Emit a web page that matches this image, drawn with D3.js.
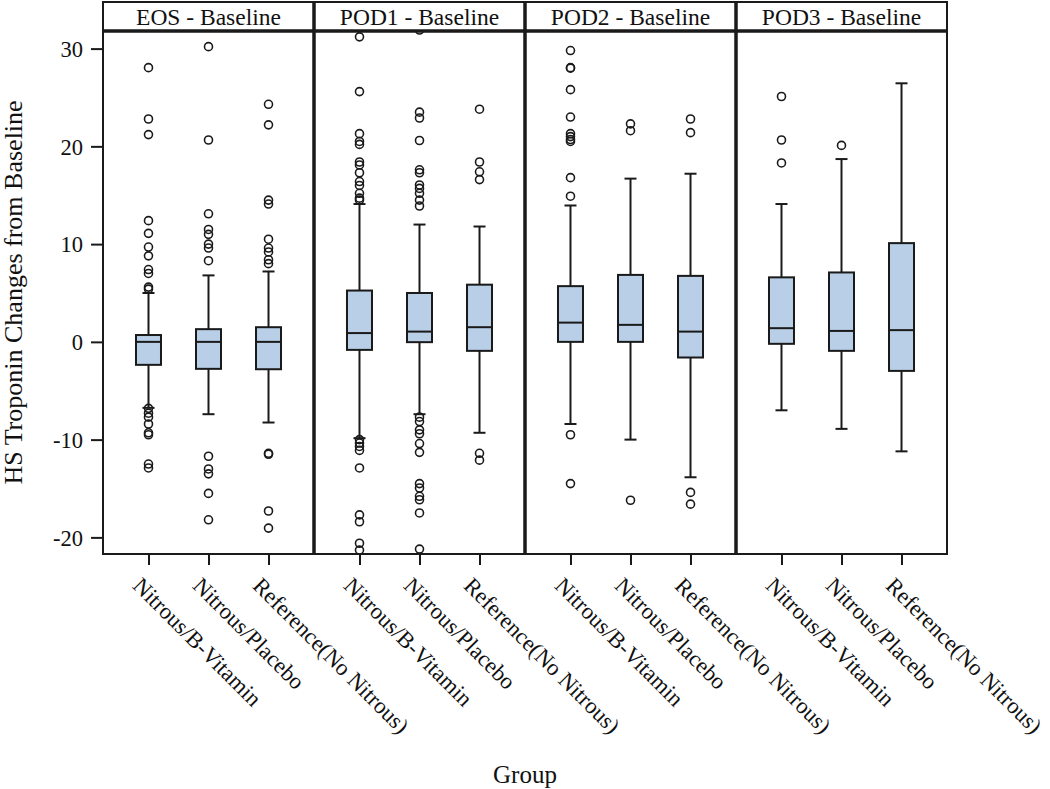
<!DOCTYPE html>
<html><head><meta charset="utf-8">
<script src="https://cdn.jsdelivr.net/npm/d3@7"></script>
<style>
body{margin:0;background:#fff}
text{font-family:"Liberation Serif","Times New Roman",serif;fill:#111}
</style>
</head><body><svg id="c" width="1050" height="789"></svg>
<script>
// ---------- data ----------
const panels = ["EOS - Baseline", "POD1 - Baseline", "POD2 - Baseline", "POD3 - Baseline"];
const groups = ["Nitrous/B-Vitamin", "Nitrous/Placebo", "Reference(No Nitrous)"];
const yTicks = [-20, -10, 0, 10, 20, 30];

// per panel, per group
const q1Values = [
  [-2.35, -2.76, -2.8],
  [-0.82, -0.03, -0.92],
  [0.0, 0.0, -1.6],
  [-0.2, -0.92, -2.97]
];
const medianValues = [
  [0, 0, 0],
  [0.9, 1.05, 1.5],
  [1.97, 1.74, 1.05],
  [1.4, 1.12, 1.2]
];
const q3Values = [
  [0.7, 1.3, 1.5],
  [5.25, 5.0, 5.85],
  [5.7, 6.85, 6.75],
  [6.6, 7.1, 10.1]
];
const whiskerLowValues = [
  [-6.75, -7.4, -8.25],
  [-9.85, -7.4, -9.3],
  [-8.4, -10.0, -13.85],
  [-7.0, -8.9, -11.2]
];
const whiskerHighValues = [
  [5.0, 6.8, 7.2],
  [14.1, 12.0, 11.8],
  [13.95, 16.7, 17.2],
  [14.1, 18.7, 26.45]
];
const outlierValues = [
  [
    [28.05, 22.8, 21.2, 12.4, 11.1, 9.7, 8.8, 7.4, 7.0, 5.6, 5.4, -6.8, -7.3, -7.7, -8.4, -9.3, -9.5, -12.5, -12.9],
    [30.2, 20.65, 13.1, 11.5, 11.0, 10.0, 9.6, 8.3, -11.7, -13.0, -13.5, -15.5, -18.2],
    [24.3, 22.2, 14.5, 14.1, 10.5, 9.6, 9.2, 8.4, 8.0, -11.4, -11.5, -17.3, -19.05]
  ],
  [
    [31.2, 25.6, 21.3, 20.5, 20.2, 18.4, 18.1, 17.3, 16.4, 16.0, 15.2, 14.7, 14.5, -10.0, -10.35, -10.7, -11.1, -12.9, -17.7, -18.4, -20.6, -21.3],
    [31.9, 23.5, 22.9, 20.6, 17.6, 17.3, 16.05, 15.7, 15.2, 14.5, 13.9, -7.7, -8.15, -9.0, -9.4, -10.4, -11.3, -14.5, -14.95, -15.8, -16.15, -17.5, -21.2],
    [23.8, 18.4, 17.4, 16.6, -11.4, -12.1]
  ],
  [
    [29.8, 28.05, 28.0, 25.8, 23.0, 21.3, 21.0, 20.7, 20.5, 16.8, 14.9, -9.5, -14.5],
    [22.3, 21.6, -16.2],
    [22.8, 21.4, -15.4, -16.6]
  ],
  [
    [25.1, 20.65, 18.3],
    [20.1],
    []
  ]
];

// ---------- layout ----------
const plotLeft = 103, plotRight = 947, headerTop = 2, plotTop = 31, plotBottom = 554;
const boxFill = "#b8cfe7", ink = "#1a1a1a";

const svg = d3.select("#c");
const y = d3.scaleLinear().domain([-21.7, 31.8]).range([plotBottom, plotTop]);
const panelX = d3.scaleBand().domain(panels).range([plotLeft, plotRight]).padding(0);
const x = d3.scalePoint().domain(groups).range([0, panelX.bandwidth()]).padding(0.758);

svg.append("defs").append("clipPath").attr("id", "plotClip")
  .append("rect").attr("x", plotLeft).attr("y", plotTop)
  .attr("width", plotRight - plotLeft).attr("height", plotBottom - plotTop);

// y axis
const yAxis = svg.append("g").attr("transform", `translate(${plotLeft},0)`)
  .call(d3.axisLeft(y).tickValues(yTicks).tickSize(12).tickPadding(8).tickFormat(d => String(d)));
yAxis.select(".domain").remove();
yAxis.selectAll(".tick line").attr("stroke", ink).attr("stroke-width", 2);
yAxis.selectAll(".tick text").attr("font-size", 22.5).attr("fill", ink)
  .attr("font-family", '"Liberation Serif",serif').attr("dy", "0.34em");

svg.append("text").attr("transform", `translate(22,${(plotTop + plotBottom) / 2}) rotate(-90)`)
  .attr("text-anchor", "middle").attr("font-size", 26).text("HS Troponin Changes from Baseline");

svg.append("text").attr("x", (plotLeft + plotRight) / 2).attr("y", 783)
  .attr("text-anchor", "middle").attr("font-size", 25).text("Group");

const marks = svg.append("g").attr("clip-path", "url(#plotClip)");

panels.forEach((p, pi) => {
  const px = panelX(p);
  // x axis
  const xa = svg.append("g").attr("transform", `translate(${px},${plotBottom})`)
    .call(d3.axisBottom(x).tickSize(11).tickFormat(""));
  xa.select(".domain").remove();
  xa.selectAll(".tick line").attr("stroke", ink).attr("stroke-width", 2);
  groups.forEach(g => {
    svg.append("text")
      .attr("transform", `translate(${px + x(g) - 17},${plotBottom + 33}) rotate(45)`)
      .attr("font-size", 22.8).attr("text-anchor", "start").text(g);
  });

  // header text
  svg.append("text").attr("x", px + panelX.bandwidth() / 2).attr("y", 25)
    .attr("text-anchor", "middle").attr("font-size", 23.5).text(p);

  const pg = marks.append("g").attr("transform", `translate(${px},0)`);
  groups.forEach((g, gi) => {
    const cx = x(g), bw = 25, cap = 12;
    const lo = whiskerLowValues[pi][gi], hi = whiskerHighValues[pi][gi];
    const a = q1Values[pi][gi], m = medianValues[pi][gi], b = q3Values[pi][gi];
    const gg = pg.append("g").attr("stroke", ink).attr("stroke-width", 2);
    gg.append("line").attr("x1", cx).attr("x2", cx).attr("y1", y(hi)).attr("y2", y(b));
    gg.append("line").attr("x1", cx).attr("x2", cx).attr("y1", y(a)).attr("y2", y(lo));
    gg.append("line").attr("x1", cx - cap / 2).attr("x2", cx + cap / 2).attr("y1", y(hi)).attr("y2", y(hi));
    gg.append("line").attr("x1", cx - cap / 2).attr("x2", cx + cap / 2).attr("y1", y(lo)).attr("y2", y(lo));
    gg.append("rect").attr("x", cx - bw / 2).attr("width", bw)
      .attr("y", y(b)).attr("height", y(a) - y(b)).attr("fill", boxFill);
    gg.append("line").attr("x1", cx - bw / 2).attr("x2", cx + bw / 2).attr("y1", y(m)).attr("y2", y(m));
    gg.selectAll("circle").data(outlierValues[pi][gi]).join("circle")
      .attr("cx", cx).attr("cy", d => y(d)).attr("r", 4)
      .attr("fill", "none").attr("stroke-width", 1.6);
  });
});

// frame
const frame = svg.append("g").attr("stroke", ink).attr("fill", "none");
frame.append("rect").attr("x", plotLeft).attr("y", headerTop)
  .attr("width", plotRight - plotLeft).attr("height", plotBottom - headerTop).attr("stroke-width", 2);
frame.append("line").attr("x1", plotLeft).attr("x2", plotRight).attr("y1", plotTop).attr("y2", plotTop).attr("stroke-width", 3.5);
panels.slice(1).forEach(p => {
  frame.append("line").attr("x1", panelX(p)).attr("x2", panelX(p))
    .attr("y1", headerTop).attr("y2", plotBottom).attr("stroke-width", 3.5);
});
</script>
</body></html>
